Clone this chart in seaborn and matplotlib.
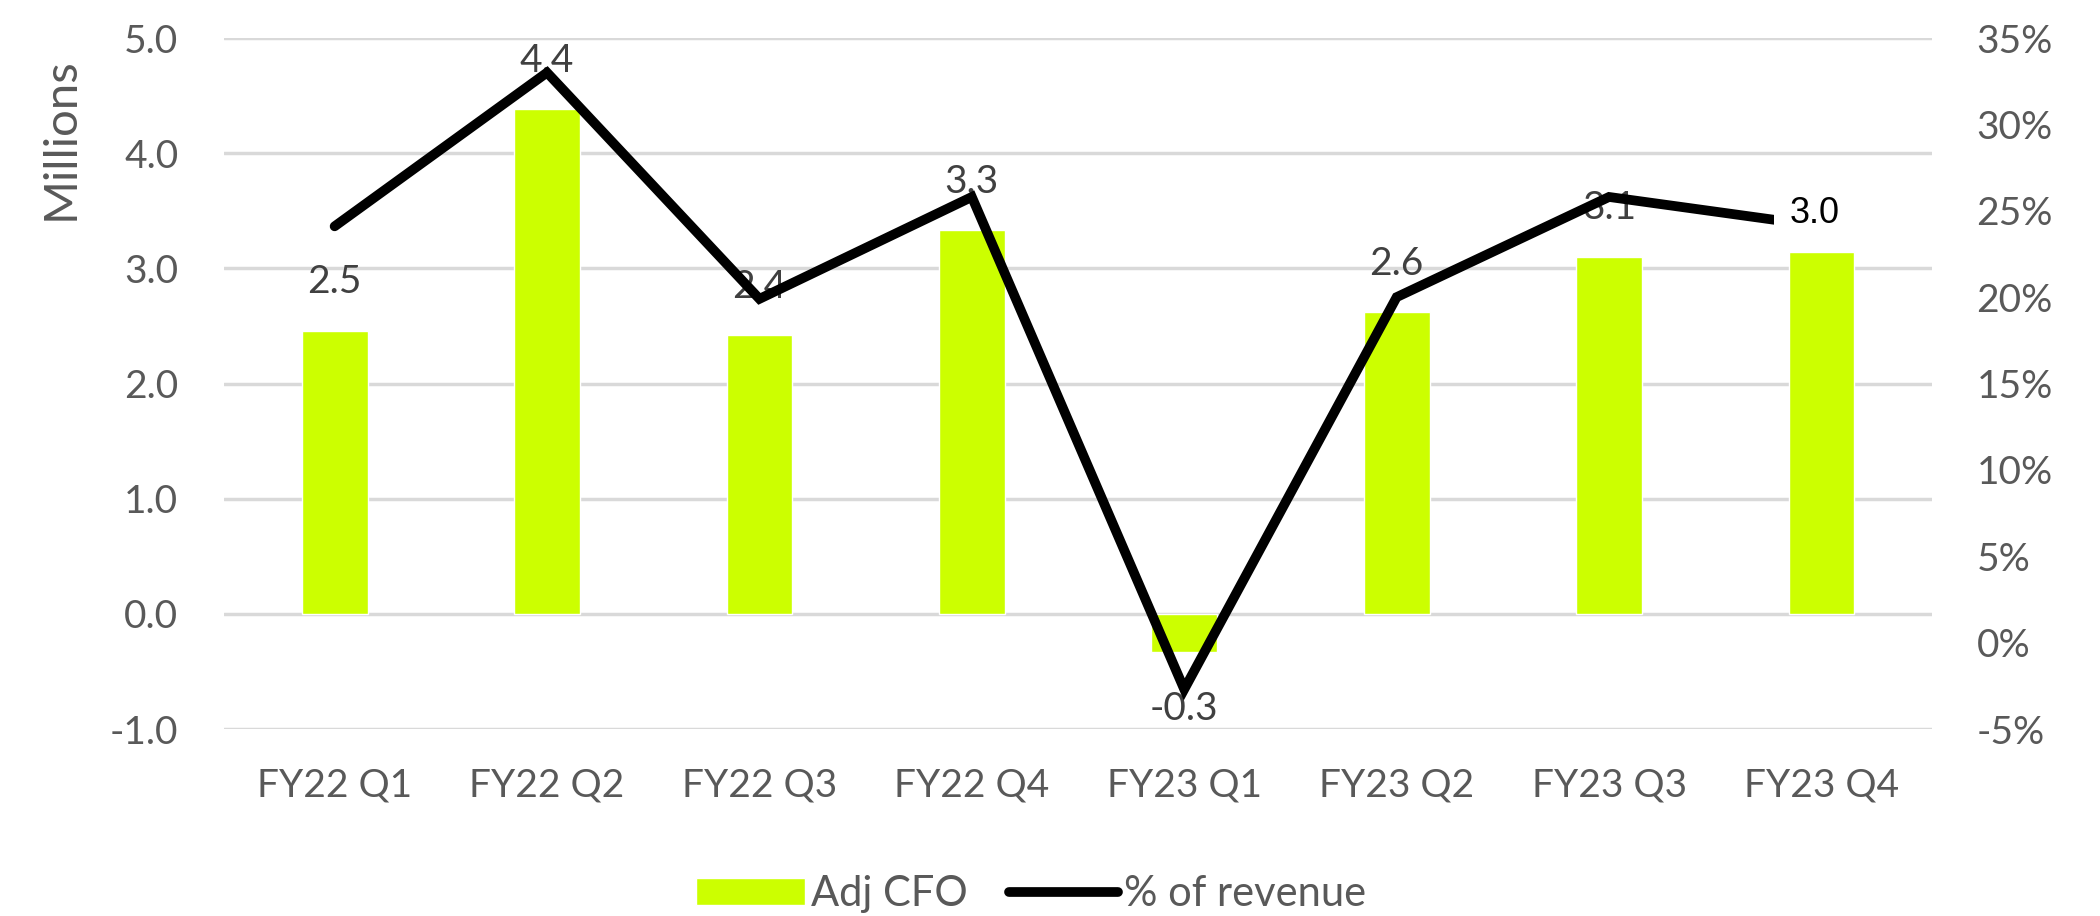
import numpy as np
import pandas as pd
import matplotlib
matplotlib.use("Agg")
import matplotlib.pyplot as plt
from matplotlib.patches import Patch
from matplotlib.lines import Line2D
import seaborn as sns

# ---- data ----
quarters = ["FY22 Q1", "FY22 Q2", "FY22 Q3", "FY22 Q4",
            "FY23 Q1", "FY23 Q2", "FY23 Q3", "FY23 Q4"]
adj_cfo = [2.46, 4.38, 2.42, 3.33, -0.33, 2.62, 3.10, 3.14]          # millions
pct_revenue = [24.1, 33.0, 19.9, 25.8, -2.7, 20.0, 25.8, 24.1]       # %
bar_labels = ["2.5", "4.4", "2.4", "3.3", "-0.3", "2.6", "3.1", "3.0"]
left_ticks = [-1.0, 0.0, 1.0, 2.0, 3.0, 4.0, 5.0]
right_ticks = [-5, 0, 5, 10, 15, 20, 25, 30, 35]

GREEN = "#CCFF00"
GREY = "#595959"
FS = 28

sns.set_theme(style="white")
plt.rcParams["font.family"] = ["Lato", "DejaVu Sans"]

df = pd.DataFrame({"quarter": quarters, "cfo": adj_cfo, "pct": pct_revenue})

fig = plt.figure(figsize=(21, 9.16), dpi=100)
ax = fig.add_axes([0.1067, 0.2041, 0.8133, 0.7544])

# bars
sns.barplot(data=df, x="quarter", y="cfo", color=GREEN, saturation=1,
            width=0.31, ax=ax, zorder=2)
ax.set_ylim(left_ticks[0], left_ticks[-1])
ax.set_yticks(left_ticks)
ax.set_yticklabels([f"{t:.1f}" for t in left_ticks])
ax.yaxis.grid(True, color="#d9d9d9", lw=2.5)
ax.xaxis.grid(False)
ax.set_axisbelow(True)
ax.set_xlabel("")
ax.set_ylabel("")
ax.tick_params(axis="both", length=0, labelsize=FS, labelcolor=GREY)
ax.tick_params(axis="y", pad=33)
ax.tick_params(axis="x", pad=28)

# data labels (under the line)
for i, (v, lab) in enumerate(zip(adj_cfo[:-1], bar_labels[:-1])):
    off = 35 if v >= 0 else -41
    ax.annotate(lab, (i, v), xytext=(0, off), textcoords="offset points",
                ha="center", va="center", fontsize=FS, color="#404040")

# % of revenue line on the right axis
ax2 = ax.twinx()
sns.lineplot(data=df, x="quarter", y="pct", ax=ax2, color="black", lw=7,
             sort=False, solid_capstyle="round", solid_joinstyle="miter")
ax2.set_ylim(right_ticks[0], right_ticks[-1])
ax2.set_yticks(right_ticks)
ax2.set_yticklabels([f"{t}%" for t in right_ticks])
ax2.grid(False)
ax2.set_xlabel("")
ax2.set_ylabel("")
ax2.tick_params(axis="y", length=0, pad=32, labelsize=FS, labelcolor=GREY)

# last label sits on top of the line end with a white box
last = len(adj_cfo) - 1
ax2.annotate(bar_labels[last], (last, adj_cfo[last]), xycoords=ax.transData,
             xytext=(-5, 28), textcoords="offset points", ha="center", va="center",
             fontsize=26, color="black", family=["Liberation Sans", "DejaVu Sans"],
             bbox=dict(boxstyle="square,pad=0.42", fc="white", ec="none"), zorder=5)

for a in (ax, ax2):
    for s in a.spines.values():
        s.set_visible(False)

fig.text(61 / 2100, 0.849, "Millions", rotation=90, ha="center", va="center",
         fontsize=34, color=GREY)

handles = [Patch(facecolor=GREEN, label="Adj CFO"),
           Line2D([], [], color="black", lw=7, solid_capstyle="round", label="% of revenue")]
fig.legend(handles=handles, loc="center", bbox_to_anchor=(0.491, 0.024), ncol=2,
           frameon=False, fontsize=30, labelcolor=GREY, handlelength=2.6,
           handleheight=0.6, handletextpad=0.15, columnspacing=1.0)

fig.savefig("out.png", dpi=100)
